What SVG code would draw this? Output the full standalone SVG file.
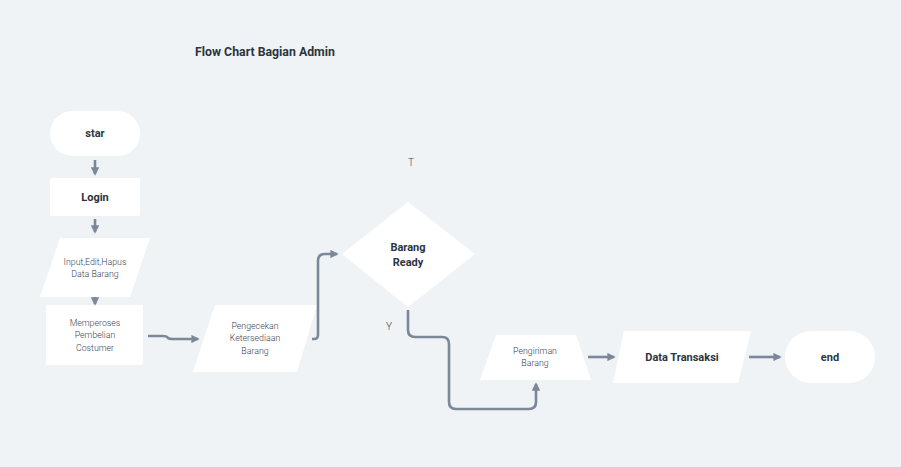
<svg xmlns="http://www.w3.org/2000/svg" width="901" height="467" viewBox="0 0 901 467">
<defs>
<marker id="ah" viewBox="0 0 10 10" refX="8" refY="5" markerWidth="3.2" markerHeight="3.2" orient="auto"><path d="M0,0 L10,5 L0,10 z" fill="#7a8898"/></marker>
<style>
.n{fill:#ffffff}
.b{font-family:Roboto,"Liberation Sans",sans-serif;font-weight:bold;font-size:11px;fill:#2b3440;text-anchor:middle}
.s{font-family:Roboto,"Liberation Sans",sans-serif;font-weight:300;font-size:8.8px;fill:#3a4350;text-anchor:middle}
.c{fill:none;stroke:#7a8898;stroke-width:2.6;marker-end:url(#ah)}
</style>
</defs>
<rect width="901" height="467" fill="#f0f3f6"/>
<text x="265" y="56" class="b" style="font-size:12.3px">Flow Chart Bagian Admin</text>
<g id="star"><rect class="n" x="50" y="111" width="90" height="45" rx="22.5"/><text class="b" x="95" y="137">star</text></g>
<g id="login"><rect class="n" x="50" y="178" width="90" height="38" rx="2"/><text class="b" x="95" y="201">Login</text></g>
<g id="input"><polygon class="n" points="60,238 150,238 130,297 40,297"/><text class="s" x="95" y="265">Input,Edit,Hapus</text><text class="s" x="95" y="277">Data Barang</text></g>
<g id="memperoses"><rect class="n" x="46" y="305" width="97" height="60" rx="2"/><text class="s" x="95" y="326">Memperoses</text><text class="s" x="95" y="338">Pembelian</text><text class="s" x="95" y="351">Costumer</text></g>
<g id="pengecekan"><polygon class="n" points="215,305 317,305 297,372 193,372"/><text class="s" x="255" y="329">Pengecekan</text><text class="s" x="255" y="341">Ketersediaan</text><text class="s" x="255" y="354">Barang</text></g>
<g id="barang-ready"><polygon class="n" points="408,202 475,254 408,307 342,254"/><text class="b" x="408" y="251">Barang</text><text class="b" x="408" y="266">Ready</text></g>
<g id="pengiriman"><polygon class="n" points="496,335 576,335 591,380 480,380"/><text class="s" x="535" y="354">Pengiriman</text><text class="s" x="535" y="366">Barang</text></g>
<g id="data-transaksi"><polygon class="n" points="624,331 751,331 738,383 613,383"/><text class="b" x="682" y="361">Data Transaksi</text></g>
<g id="end"><rect class="n" x="785" y="331" width="90" height="52" rx="26"/><text class="b" x="830" y="361">end</text></g>
<g id="labels">
<text class="s" x="411" y="166" style="font-size:10px">T</text>
<text class="s" x="389" y="330" style="font-size:10px">Y</text>
</g>
<g id="connectors">
<path class="c" d="M95,160 V174"/>
<path class="c" d="M95,219 V232"/>
<path class="c" d="M95,297 V304"/>
<path class="c" d="M148,336 H163 Q167,336 168,338 Q169,339 173,339 H198"/>
<path class="c" d="M312,339 H314 Q318,339 318,335 V261 Q318,254 325,254 H337"/>
<path class="c" d="M408,310 V330 Q408,337 415,337 H442 Q449,337 449,344 V402 Q449,409 456,409 H529 Q536,409 536,402 V384"/>
<path class="c" d="M588,357 H614"/>
<path class="c" d="M749,357 H780"/>
</g>
</svg>
